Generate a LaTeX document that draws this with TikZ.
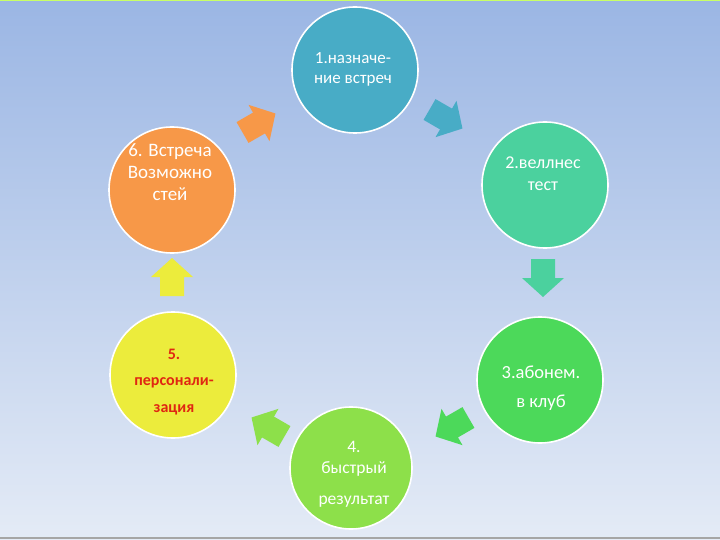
\documentclass[tikz,border=0pt]{standalone}
\usepackage{fontspec}
\setmainfont{Carlito}
\begin{document}
\begin{tikzpicture}[x=1pt,y=-1pt,
  bub/.style={circle,draw=white,line width=1.6pt,minimum size=126pt,inner sep=0pt},
  lbl/.style={align=center,text=white,inner sep=0pt},
  barrow/.style={draw=none}]
\definecolor{bgtop}{RGB}{155,182,228}
\definecolor{bgbot}{RGB}{228,235,246}
\definecolor{cA}{RGB}{72,172,198}
\definecolor{cB}{RGB}{75,209,158}
\definecolor{cC}{RGB}{76,217,90}
\definecolor{cD}{RGB}{141,224,74}
\definecolor{cE}{RGB}{236,236,60}
\definecolor{cF}{RGB}{247,152,72}
\definecolor{redtxt}{RGB}{224,38,18}
\useasboundingbox (0,0) rectangle (720,540);
\shade[top color=bgtop,bottom color=bgbot] (0,0) rectangle (720,540);
\fill[green!35!yellow!60!white] (0,0) rectangle (720,1.5);
\fill[gray!70] (0,537) rectangle (720,538.5);
% block arrows
\newcommand\blockarrow[4]{%
  \begin{scope}[shift={(#1,#2)},rotate=#3]
    \fill[#4] (-19,-12) -- (0,-12) -- (0,-21) -- (19,0) -- (0,21) -- (0,12) -- (-19,12) -- cycle;
  \end{scope}}
\blockarrow{446}{119}{-30}{cA}
\blockarrow{543}{278}{-90}{cB}
\blockarrow{452}{427}{210}{cC}
\blockarrow{268}{427}{150}{cD}
\blockarrow{172}{277}{90}{cE}
\blockarrow{259}{123}{30}{cF}
% circles
\node[bub,fill=cA] (c1) at (355,70) {};
\node[bub,fill=cB] (c2) at (545,185) {};
\node[bub,fill=cC] (c3) at (540,380) {};
\node[bub,fill=cD,minimum size=122pt] (c4) at (351,468) {};
\node[bub,fill=cE] (c5) at (173,375) {};
\node[bub,fill=cF] (c6) at (172,190) {};
% labels
\node[lbl,font={\fontsize{17}{20}\selectfont}] (t1) at (353,69) {1.назначе-\\ние встреч};
\node[lbl,font={\fontsize{18}{22}\selectfont}] (t2) at (543,174) {2.веллнес\\тест};
\node[lbl,font={\fontsize{18.5}{29}\selectfont}] (t3) at (541,388) {3.абонем.\\в клуб};
\node[lbl,font={\fontsize{17.5}{21}\selectfont}] (t4) at (354,474) {4.\\быстрый\\[10pt]результат};
\node[lbl,text=redtxt,font={\fontsize{16}{26.5}\selectfont\bfseries}] (t5) at (174,382) {5.\\персонали-\\зация};
\node[lbl,font={\fontsize{19}{22}\selectfont}] (t6) at (170,172) {6. Встреча\\Возможно\\стей};
\end{tikzpicture}
\end{document}
